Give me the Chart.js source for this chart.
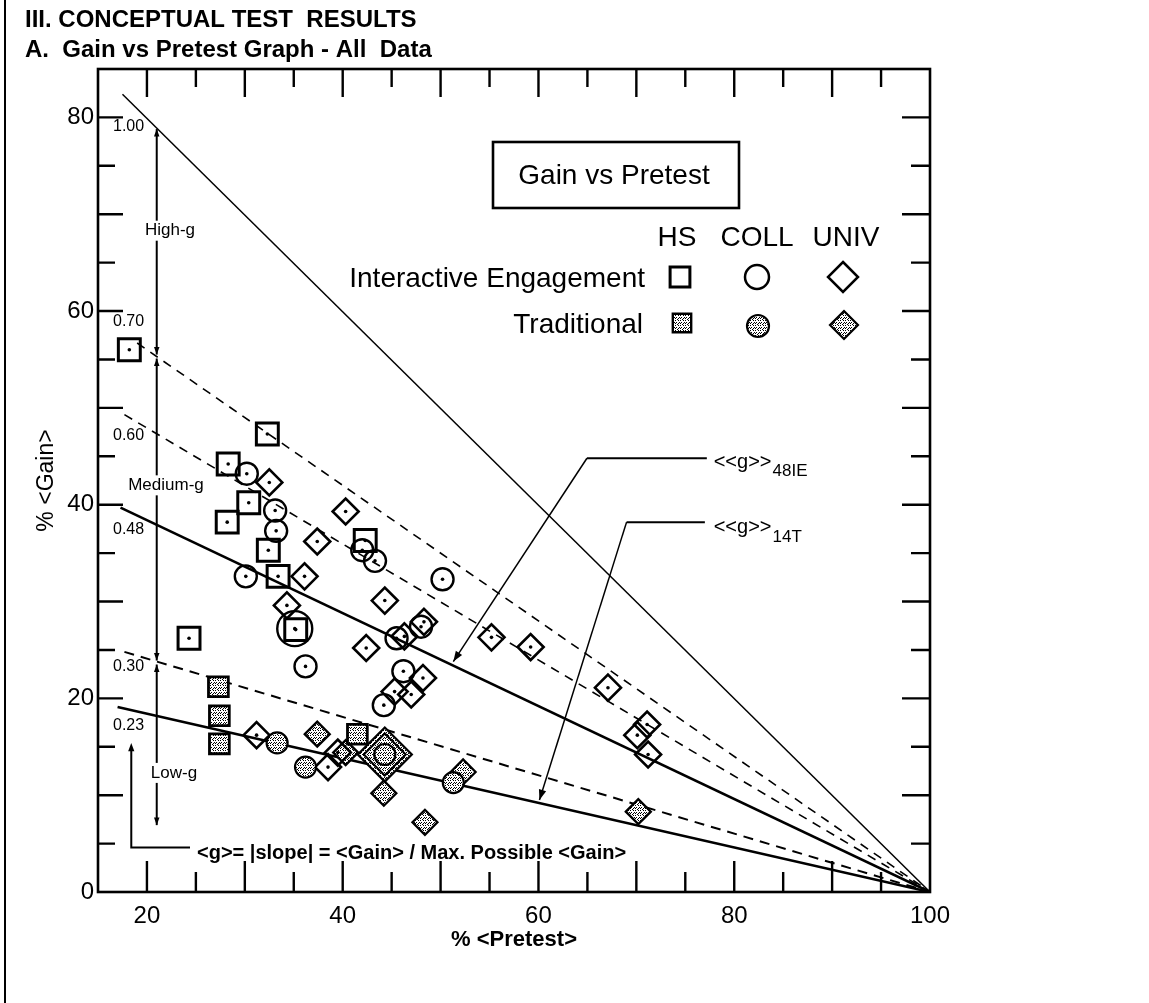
<!DOCTYPE html>
<html>
<head>
<meta charset="utf-8">
<title>Gain vs Pretest - All Data</title>
<script src="https://cdn.jsdelivr.net/npm/chart.js@4.4.0/dist/chart.umd.min.js"></script>
<style>
  html, body { margin: 0; padding: 0; background: #fff; }
  canvas { display: block; }
</style>
</head>
<body>
<canvas id="gain-chart" width="1149" height="1003"></canvas>
<script>
// values: [% <Pretest>, % <Gain>]
const hsIE = [[18.2, 56.0], [32.3, 47.3], [28.3, 44.2], [30.4, 40.2], [28.2, 38.2],
              [32.4, 35.3], [33.4, 32.6], [42.3, 36.3], [35.2, 27.1], [24.3, 26.2]];
const hsTrad = [[27.3, 21.2], [27.4, 18.2], [27.4, 15.3], [41.5, 16.3]];
const collIE = [[30.2, 43.2], [33.1, 39.4], [33.2, 37.3], [30.1, 32.6], [42.0, 35.3],
                [43.3, 34.2], [36.2, 23.3], [45.5, 26.2], [48.0, 27.4], [46.2, 22.8],
                [44.2, 19.3], [50.2, 32.3]];
const collIELarge = [[35.1, 27.2]];
const collTrad = [[33.3, 15.4], [36.2, 12.9], [51.3, 11.3], [44.3, 14.2]];
const univIE = [[32.5, 42.3], [40.3, 39.3], [37.4, 36.2], [36.1, 32.6], [34.3, 29.6],
                [44.3, 30.1], [42.4, 25.2], [46.3, 26.4], [48.3, 27.9], [48.2, 22.1],
                [45.3, 20.7], [47.0, 20.4], [55.2, 26.3], [59.2, 25.3], [67.1, 21.1],
                [71.1, 17.3], [70.1, 16.2], [71.2, 14.2], [31.2, 16.2], [38.5, 12.9],
                [39.5, 14.4]];
const univTrad = [[37.4, 16.3], [40.3, 14.4], [44.2, 10.2], [48.4, 7.2], [52.3, 12.4], [70.2, 8.3]];
const univTradLarge = [[44.3, 14.2]];

// constant-g lines, all ending at (100, 0)
const gLabels = ['1.00', '0.70', '0.60', '0.48', '0.30', '0.23'];
const gLineStartPre = [17.5, 19.0, 17.7, 17.3, 17.7, 17.0];
const gLineStartGain = [82.4, 56.7, 49.3, 39.7, 24.8, 19.1];
const gLineEnd = [100, 0];

const xTickLabels = [20, 40, 60, 80, 100];
const yTickLabels = [0, 20, 40, 60, 80];

const FONT = '"Liberation Sans", Arial, Helvetica, sans-serif';

function pts(arr) {
    return arr.map(p => ({ x: p[0], y: p[1] }));
}

// speckled fill for the "Traditional" markers
function makeStipple() {
    const c = document.createElement('canvas');
    c.width = 5;
    c.height = 5;
    const g = c.getContext('2d');
    g.fillStyle = '#fff';
    g.fillRect(0, 0, 5, 5);
    g.fillStyle = '#000';
    [[0, 0], [3, 0], [1, 2], [4, 2], [2, 4], [0, 3], [3, 3]].forEach(p => g.fillRect(p[0], p[1], 1, 1));
    return g.createPattern(c, 'repeat');
}
const stipple = makeStipple();
const clear = 'rgba(0,0,0,0)';

function marks(label, arr, style, radius, width, fill) {
    return {
        label: label,
        data: pts(arr),
        pointStyle: style,
        pointRadius: radius,
        pointHoverRadius: radius,
        pointBorderWidth: width,
        pointBorderColor: '#000',
        pointBackgroundColor: fill,
        order: 1
    };
}

// line styles for the g lines (same order as gLabels)
const gWidths = [1.5, 1.6, 1.6, 2.6, 2, 2.6];
const gDashes = [[], [9, 7], [9, 7], [], [10, 7], []];

const gLineSets = gLabels.map((g, i) => ({
    label: 'g = ' + g,
    data: [{ x: gLineStartPre[i], y: gLineStartGain[i] }, { x: gLineEnd[0], y: gLineEnd[1] }],
    showLine: true,
    borderColor: '#000',
    borderWidth: gWidths[i],
    borderDash: gDashes[i],
    pointRadius: 0,
    order: 10
}));

const centerDots = {
    label: 'centres',
    data: pts([...hsIE, ...collIE, ...collIELarge, ...univIE]),
    pointStyle: 'circle',
    pointRadius: 1.8,
    pointBorderWidth: 0,
    pointBackgroundColor: '#000',
    order: 0
};

function arrowHead(ctx, x0, y0, x1, y1, size) {
    const a = Math.atan2(y1 - y0, x1 - x0);
    ctx.beginPath();
    ctx.moveTo(x1, y1);
    ctx.lineTo(x1 - size * Math.cos(a - 0.35), y1 - size * Math.sin(a - 0.35));
    ctx.lineTo(x1 - size * Math.cos(a + 0.35), y1 - size * Math.sin(a + 0.35));
    ctx.closePath();
    ctx.fill();
}

function symbol(ctx, style, x, y, r, width, fill) {
    ctx.save();
    ctx.lineWidth = width;
    ctx.strokeStyle = '#000';
    ctx.fillStyle = fill;
    ctx.beginPath();
    if (style === 'rect') {
        const s = r * Math.SQRT1_2;
        ctx.rect(x - s, y - s, 2 * s, 2 * s);
    } else if (style === 'circle') {
        ctx.arc(x, y, r, 0, Math.PI * 2);
    } else {
        ctx.moveTo(x, y - r);
        ctx.lineTo(x + r, y);
        ctx.lineTo(x, y + r);
        ctx.lineTo(x - r, y);
        ctx.closePath();
    }
    ctx.fill();
    ctx.stroke();
    ctx.restore();
}

// frame, inward ticks on all four sides, page headings
const frameAndTicks = {
    id: 'frameAndTicks',
    beforeDatasetsDraw(chart) {
        const { ctx, chartArea: a, scales: { x, y } } = chart;
        ctx.save();
        ctx.strokeStyle = '#000';
        ctx.lineWidth = 2;
        ctx.beginPath();
        ctx.moveTo(5, 0);
        ctx.lineTo(5, chart.height);
        ctx.stroke();

        ctx.lineWidth = 2.6;
        ctx.strokeRect(a.left, a.top, a.right - a.left, a.bottom - a.top);

        ctx.lineWidth = 2.4;
        ctx.beginPath();
        for (let v = 20; v < 100; v += 5) {
            const px = x.getPixelForValue(v);
            const major = v % 10 === 0;
            ctx.moveTo(px, a.bottom);
            ctx.lineTo(px, a.bottom - (major ? 31 : 20));
            ctx.moveTo(px, a.top);
            ctx.lineTo(px, a.top + (major ? 28 : 18));
        }
        for (let v = 5; v < 85; v += 5) {
            const py = y.getPixelForValue(v);
            const major = v % 10 === 0;
            ctx.moveTo(a.left, py);
            ctx.lineTo(a.left + (major ? 25 : 17), py);
            ctx.moveTo(a.right, py);
            ctx.lineTo(a.right - (major ? 28 : 19), py);
        }
        ctx.stroke();

        ctx.fillStyle = '#000';
        ctx.textBaseline = 'middle';
        ctx.textAlign = 'left';
        ctx.font = 'bold 24px ' + FONT;
        ctx.fillText('III. CONCEPTUAL TEST  RESULTS', 25, 20);
        ctx.fillText('A.  Gain vs Pretest Graph - All  Data', 25, 50);
        ctx.restore();
    },
    afterDatasetsDraw(chart) {
        const { ctx, scales: { x, y } } = chart;
        const X = v => x.getPixelForValue(v);
        const Y = v => y.getPixelForValue(v);
        ctx.save();
        ctx.fillStyle = '#000';
        ctx.strokeStyle = '#000';
        ctx.textBaseline = 'middle';

        // g labels at the left end of each line
        const gLabelGain = [79.1, 58.9, 47.1, 37.4, 23.3, 17.2];
        ctx.font = '16px ' + FONT;
        ctx.textAlign = 'left';
        gLabels.forEach((g, i) => ctx.fillText(g, 113, Y(gLabelGain[i])));

        // High / Medium / Low bands along pretest = 21
        const bandX = X(21);
        const bandEdges = [79, 55.3, 23.7, 6.7];
        ctx.lineWidth = 2;
        for (let i = 0; i < 3; i++) {
            const y0 = Y(bandEdges[i]) + 2, y1 = Y(bandEdges[i + 1]) - 2;
            ctx.beginPath();
            ctx.moveTo(bandX, y0);
            ctx.lineTo(bandX, y1);
            ctx.stroke();
            arrowHead(ctx, bandX, y1, bandX, y0, 8);
            arrowHead(ctx, bandX, y0, bandX, y1, 8);
        }
        ctx.font = '17px ' + FONT;
        ctx.textAlign = 'center';
        [['High-g', 170, 68.3], ['Medium-g', 166, 42.0], ['Low-g', 174, 12.3]].forEach(t => {
            const w = ctx.measureText(t[0]).width;
            ctx.fillStyle = '#fff';
            ctx.fillRect(t[1] - w / 2 - 2, Y(t[2]) - 10, w + 4, 20);
            ctx.fillStyle = '#000';
            ctx.fillText(t[0], t[1], Y(t[2]));
        });

        // formula pointer
        ctx.lineWidth = 2;
        ctx.beginPath();
        ctx.moveTo(X(24.4), Y(4.6));
        ctx.lineTo(X(18.4), Y(4.6));
        ctx.lineTo(X(18.4), Y(14.6));
        ctx.stroke();
        arrowHead(ctx, X(18.4), Y(10), X(18.4), Y(15.4), 9);
        ctx.font = 'bold 20px ' + FONT;
        ctx.textAlign = 'left';
        ctx.fillText('<g>= |slope| = <Gain> / Max. Possible <Gain>', 197, Y(4.0));

        // <<g>> pointers
        const pointers = [
            { pts: [[77.2, 44.8], [64.95, 44.8], [51.3, 23.8]], sub: '48IE', textPre: 77.9, textGain: 44.4 },
            { pts: [[77.0, 38.2], [69.0, 38.2], [60.1, 9.5]], sub: '14T', textPre: 77.9, textGain: 37.6 }
        ];
        pointers.forEach(p => {
            ctx.lineWidth = 2;
            ctx.beginPath();
            ctx.moveTo(X(p.pts[0][0]), Y(p.pts[0][1]));
            ctx.lineTo(X(p.pts[1][0]), Y(p.pts[1][1]));
            ctx.stroke();
            ctx.lineWidth = 1.5;
            ctx.beginPath();
            ctx.moveTo(X(p.pts[1][0]), Y(p.pts[1][1]));
            ctx.lineTo(X(p.pts[2][0]), Y(p.pts[2][1]));
            ctx.stroke();
            arrowHead(ctx, X(p.pts[1][0]), Y(p.pts[1][1]), X(p.pts[2][0]), Y(p.pts[2][1]), 11);
            ctx.font = '20px ' + FONT;
            ctx.textAlign = 'left';
            const tx = X(p.textPre), ty = Y(p.textGain);
            ctx.fillText('<<g>>', tx, ty);
            const w = ctx.measureText('<<g>>').width;
            ctx.font = '17px ' + FONT;
            ctx.fillText(p.sub, tx + w + 1, ty + 9);
        });

        // key box
        ctx.lineWidth = 2.6;
        ctx.strokeRect(493, 142, 246, 66);
        ctx.font = '28px ' + FONT;
        ctx.textAlign = 'center';
        ctx.fillText('Gain vs Pretest', 614, 176);
        ctx.fillText('HS', 677, 238);
        ctx.fillText('COLL', 757, 238);
        ctx.fillText('UNIV', 846, 238);
        ctx.textAlign = 'right';
        ctx.fillText('Interactive Engagement', 645, 279);
        ctx.fillText('Traditional', 643, 325);
        symbol(ctx, 'rect', 680, 277, 14, 3, clear);
        symbol(ctx, 'circle', 757, 277, 12, 2.5, clear);
        symbol(ctx, 'diamond', 843, 277, 15, 2.5, clear);
        symbol(ctx, 'rect', 682, 323, 13, 2.4, stipple);
        symbol(ctx, 'circle', 758, 326, 11, 2.2, stipple);
        symbol(ctx, 'diamond', 844, 325, 14, 2.2, stipple);
        ctx.restore();
    }
};

const ctx = document.getElementById('gain-chart').getContext('2d');
new Chart(ctx, {
    type: 'scatter',
    data: {
        datasets: [
            centerDots,
            marks('HS Interactive Engagement', hsIE, 'rect', 15.5, 3, clear),
            marks('HS Traditional', hsTrad, 'rect', 14, 2.8, stipple),
            marks('COLL Interactive Engagement', collIE, 'circle', 11, 2.4, clear),
            marks('COLL Interactive Engagement (large)', collIELarge, 'circle', 17.5, 2.4, clear),
            marks('COLL Traditional', collTrad, 'circle', 10.5, 2.2, stipple),
            marks('UNIV Interactive Engagement', univIE, 'rectRot', 13, 2.6, clear),
            marks('UNIV Traditional', univTrad, 'rectRot', 12.5, 2.3, stipple),
            marks('UNIV Traditional (large)', univTradLarge, 'rectRot', 21, 2, clear),
            Object.assign(marks('UNIV Traditional (large outer)', univTradLarge, 'rectRot', 27, 2.3, stipple), { order: 2 }),
            ...gLineSets
        ]
    },
    options: {
        responsive: false,
        animation: false,
        events: [],
        layout: { padding: { left: 0, top: 69, right: 219, bottom: 0 } },
        plugins: {
            legend: { display: false },
            tooltip: { enabled: false }
        },
        scales: {
            x: {
                type: 'linear',
                min: 15,
                max: 100,
                afterBuildTicks: s => { s.ticks = xTickLabels.map(v => ({ value: v })); },
                afterFit: s => { s.height = 111; },
                grid: { display: false, drawTicks: false },
                border: { display: false },
                ticks: { color: '#000', font: { family: FONT, size: 24 }, padding: 10, maxRotation: 0, autoSkip: false },
                title: {
                    display: true,
                    text: '% <Pretest>',
                    color: '#000',
                    font: { family: FONT, size: 22, weight: 'bold' },
                    padding: { top: 0, bottom: 50 }
                }
            },
            y: {
                type: 'linear',
                min: 0,
                max: 85,
                afterBuildTicks: s => { s.ticks = yTickLabels.map(v => ({ value: v })); },
                afterFit: s => { s.width = 98; },
                grid: { display: false, drawTicks: false },
                border: { display: false },
                ticks: { color: '#000', font: { family: FONT, size: 24 }, padding: 4, autoSkip: false },
                title: {
                    display: true,
                    text: '% <Gain>',
                    color: '#000',
                    font: { family: FONT, size: 23 },
                    padding: { top: 33, bottom: 0 }
                }
            }
        }
    },
    plugins: [frameAndTicks]
});
</script>
</body>
</html>
